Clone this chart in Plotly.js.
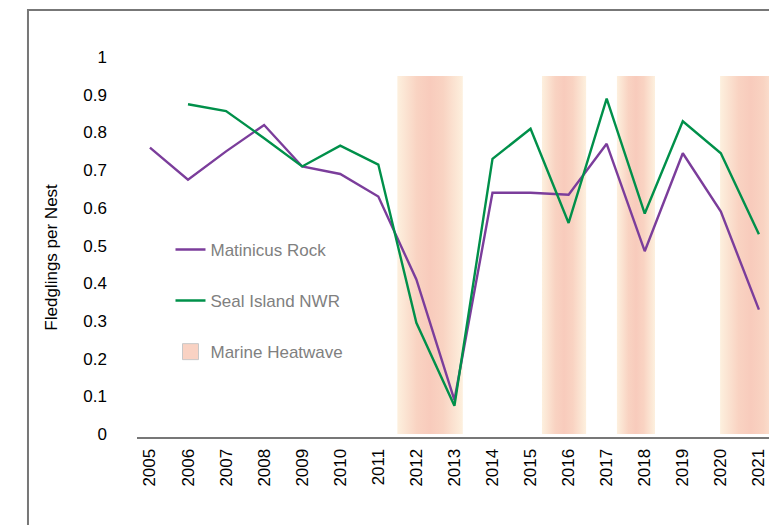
<!DOCTYPE html>
<html>
<head>
<meta charset="utf-8">
<script src="https://cdn.plot.ly/plotly-3.0.1.min.js"></script>
<style>
  html, body { margin: 0; padding: 0; background: #fff; overflow: hidden; }
  #chart { width: 769px; height: 525px; }
</style>
</head>
<body>
<div id="chart"></div>
<script>
var years = [2005, 2006, 2007, 2008, 2009, 2010, 2011, 2012, 2013,
	2014, 2015, 2016, 2017, 2018, 2019, 2020, 2021];

// fledglings per nest
var matinicus = [0.76, 0.675, 0.75, 0.82, 0.71, 0.69, 0.63, 0.41, 0.09,
	0.64, 0.64, 0.635, 0.77, 0.485, 0.745, 0.59, 0.33];
var seal = [null, 0.875, 0.857, 0.785, 0.71, 0.765, 0.715, 0.295, 0.075,
	0.73, 0.81, 0.56, 0.89, 0.585, 0.83, 0.745, 0.53];

// marine heatwave shading, start / end in year units
var heat_start = [2011.5, 2015.3, 2017.27, 2019.98];
var heat_end = [2013.22, 2016.46, 2018.27, 2021.6];
var heat_top = 0.95;

var ytick_vals = [0, 0.1, 0.2, 0.3, 0.4, 0.5, 0.6, 0.7, 0.8, 0.9, 1];
var ytick_text = ["0", "0.1", "0.2", "0.3", "0.4", "0.5", "0.6", "0.7", "0.8", "0.9", "1"];

var font = "Liberation Sans, Arial, Helvetica, sans-serif";
var purple = "#7B3D9B";
var green = "#00904A";

var data = [];

for (var i = 0; i < heat_start.length; i++) {
	data.push({
		type: "scatter",
		mode: "lines",
		x: [heat_start[i], heat_end[i], heat_end[i], heat_start[i], heat_start[i]],
		y: [0, 0, heat_top, heat_top, 0],
		fill: "toself",
		fillcolor: "#F9CDBE",
		fillgradient: {
			type: "horizontal",
			colorscale: [[0, "#FDF0DE"], [0.3, "#F9D3C2"], [0.5, "#F8CBBC"], [0.7, "#F9D3C2"], [1, "#FDF0DE"]]
		},
		line: { width: 0, color: "rgba(0,0,0,0)" },
		hoverinfo: "skip",
		legendgroup: "heat",
		showlegend: false
	});
}

// legend swatch for the shading
data.push({
	type: "scatter",
	mode: "markers",
	x: [null],
	y: [null],
	name: "Marine Heatwave",
	legendgroup: "heat",
	legendrank: 3,
	marker: { symbol: "square", size: 18, color: "#F9D2C3", line: { color: "#C8C8C8", width: 1 } }
});

data.push({
	type: "scatter",
	mode: "lines",
	x: years,
	y: matinicus,
	name: "Matinicus Rock",
	legendgroup: "mat",
	legendrank: 1,
	line: { color: purple, width: 2.4 }
});

data.push({
	type: "scatter",
	mode: "lines",
	x: years,
	y: seal,
	name: "Seal Island NWR",
	legendgroup: "seal",
	legendrank: 2,
	connectgaps: false,
	line: { color: green, width: 2.4 }
});

var layout = {
	width: 769,
	height: 525,
	paper_bgcolor: "#fff",
	plot_bgcolor: "rgba(0,0,0,0)",
	margin: { l: 137, r: 0, t: 50, b: 88, autoexpand: false },
	font: { family: font, size: 17, color: "#000" },
	xaxis: {
		range: [2004.66, 2021.265],
		tickvals: years,
		ticktext: years.map(String),
		tickangle: -90,
		ticks: "",
		showgrid: false,
		zeroline: false,
		showline: true,
		linecolor: "#777",
		linewidth: 2,
		ticklabelstandoff: 3,
		tickfont: { size: 17, color: "#000" }
	},
	yaxis: {
		range: [-0.008, 1.019],
		tickvals: ytick_vals,
		ticktext: ytick_text,
		ticks: "",
		showgrid: false,
		zeroline: false,
		showline: false,
		ticklabelstandoff: 29,
		tickfont: { size: 17, color: "#000" }
	},
	legend: {
		x: 0.053,
		y: 0.53,
		xanchor: "left",
		yanchor: "top",
		bgcolor: "rgba(0,0,0,0)",
		tracegroupgap: 26,
		itemwidth: 30,
		font: { family: font, size: 17, color: "#808080" }
	},
	annotations: [{
		text: "Fledglings per Nest",
		xref: "paper",
		yref: "paper",
		x: -0.1345,
		y: 0.466,
		xanchor: "center",
		yanchor: "middle",
		textangle: -90,
		showarrow: false,
		font: { family: font, size: 17, color: "#000" }
	}],
	shapes: [{
		type: "rect",
		xref: "paper",
		yref: "paper",
		x0: -0.1725,
		x1: 2,
		y0: -2,
		y1: 1.1034,
		line: { color: "#777", width: 2 },
		fillcolor: "rgba(0,0,0,0)",
		layer: "above"
	}]
};

Plotly.newPlot("chart", data, layout, { displayModeBar: false, staticPlot: true });
</script>
</body>
</html>
